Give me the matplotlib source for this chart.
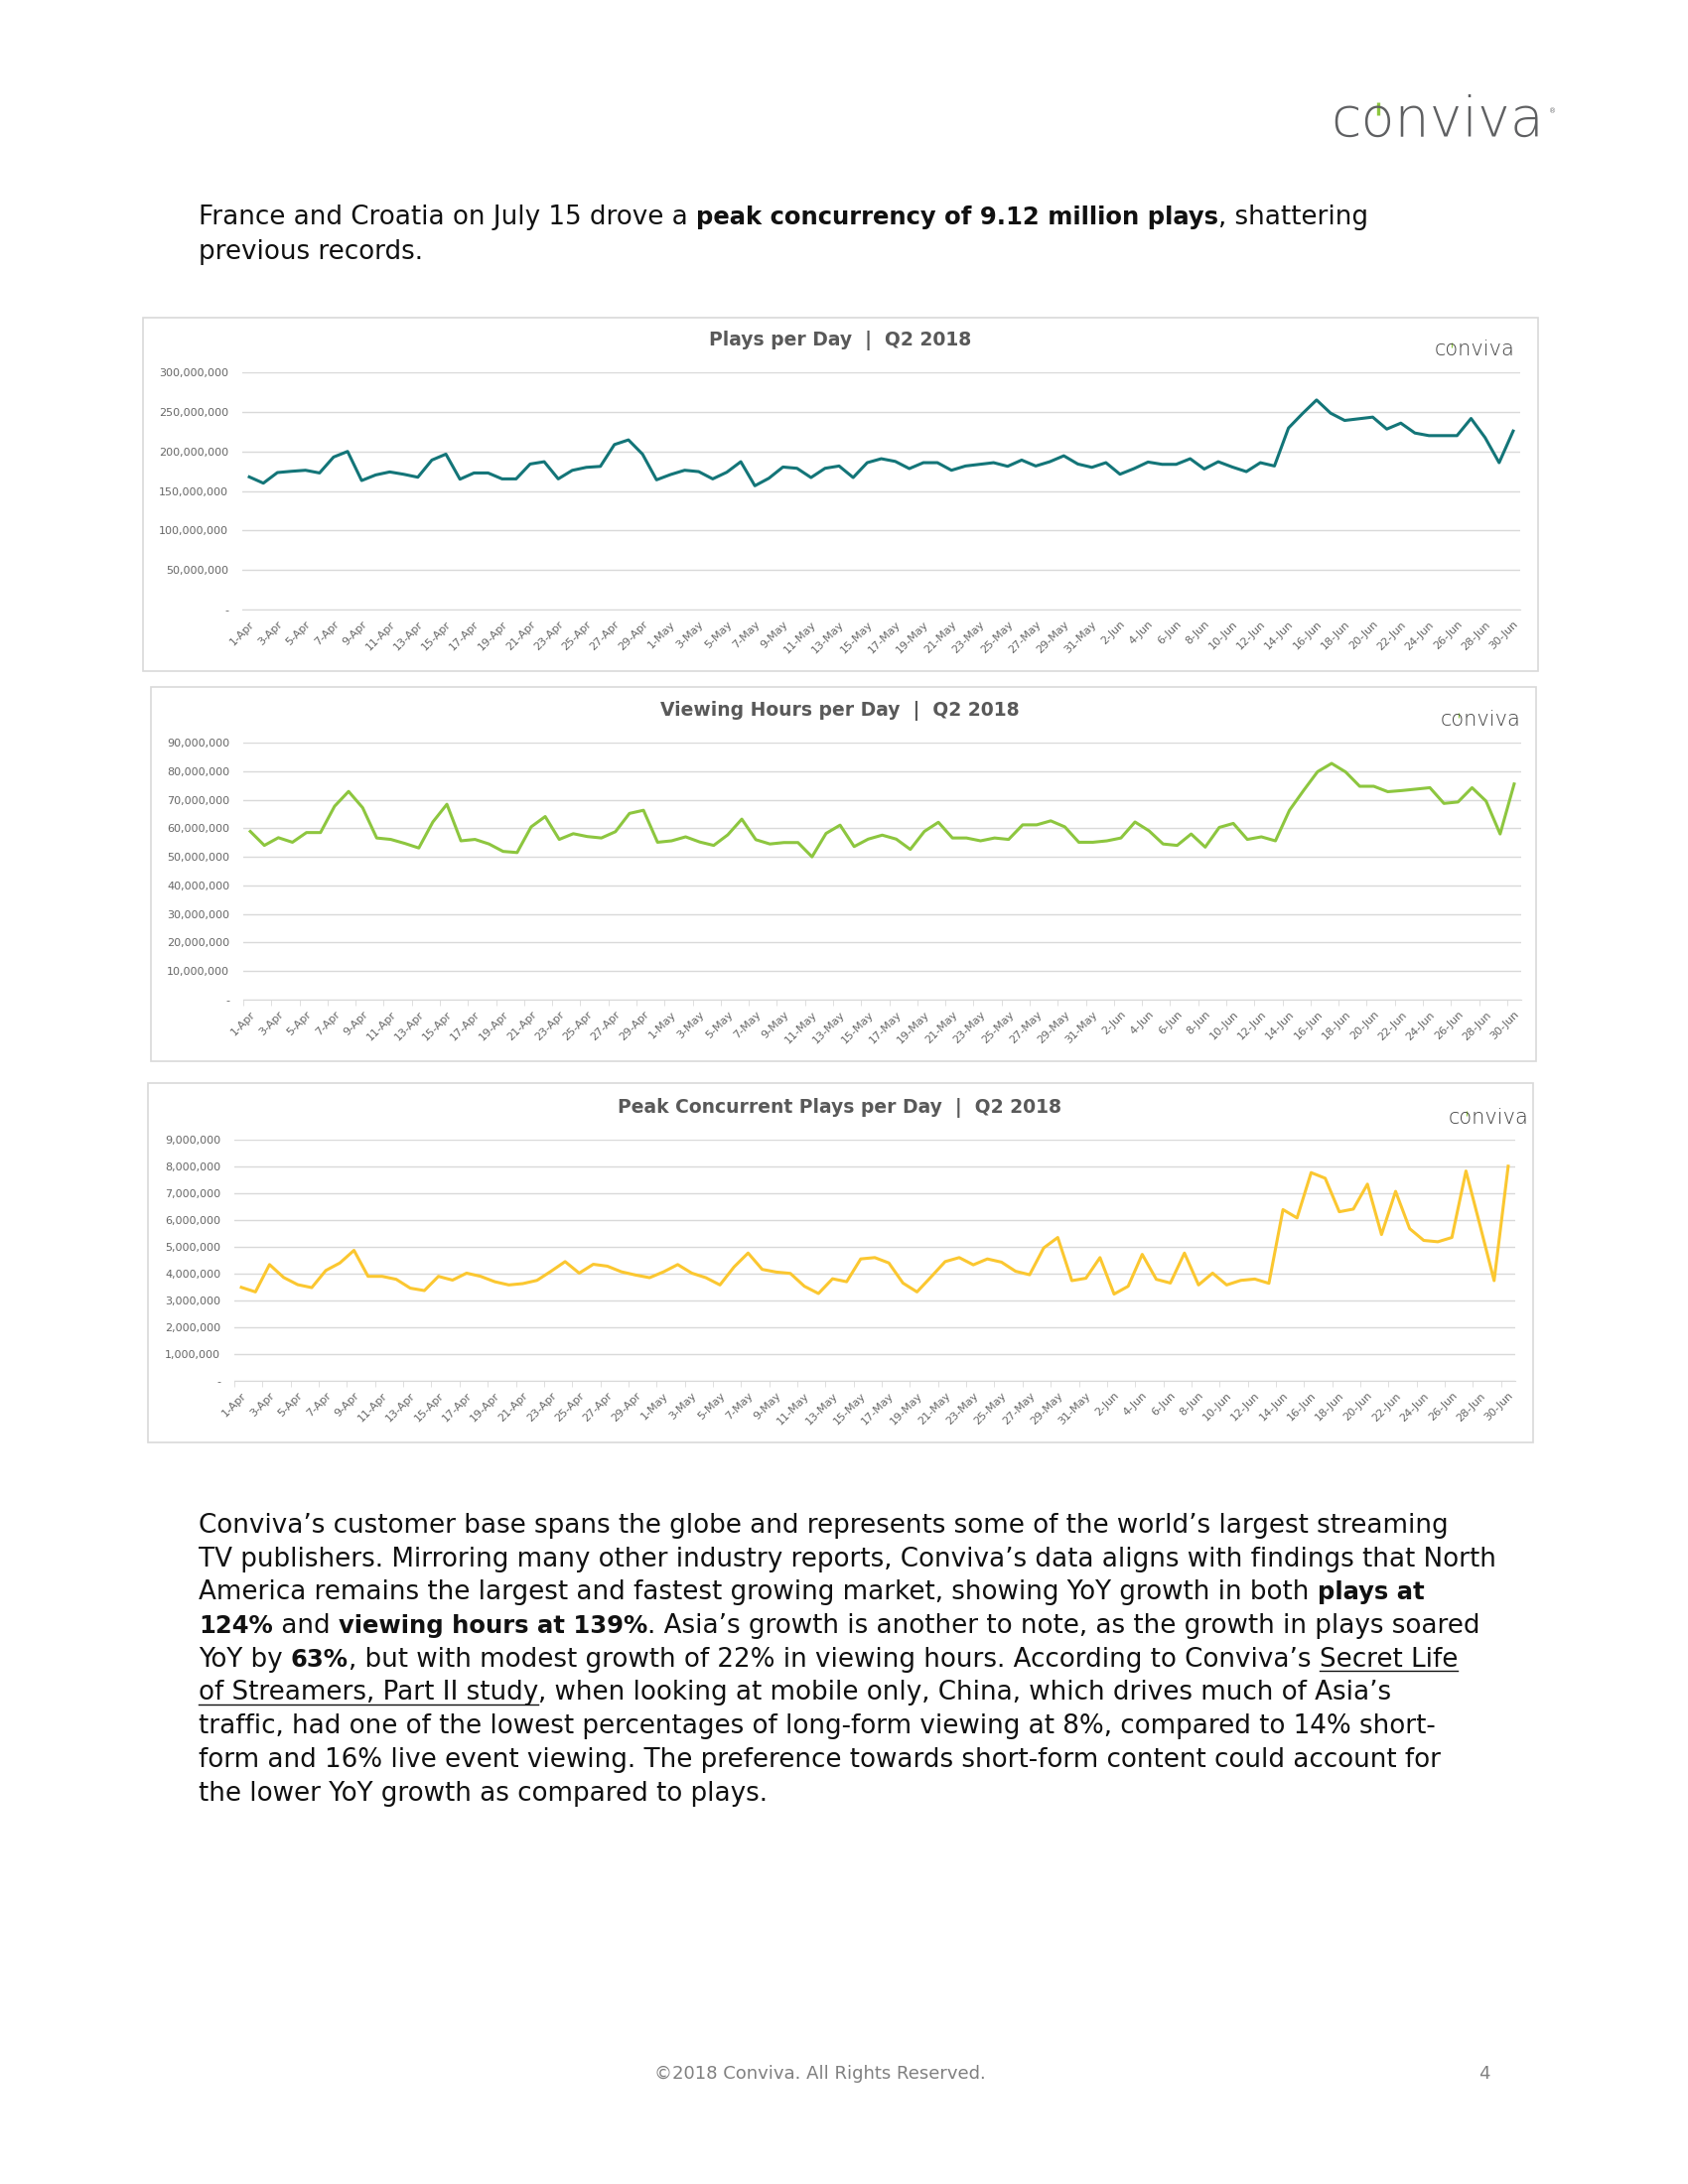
import numpy as np
import pandas as pd
import matplotlib
matplotlib.use("Agg")
import matplotlib.pyplot as plt
from matplotlib.patches import Rectangle
from matplotlib.lines import Line2D
from matplotlib.ticker import FuncFormatter

plt.rcParams["font.family"] = ["DejaVu Sans"]

W, H = 1700, 2200

# Q2 2018, one value per day (millions)
days = pd.date_range("2018-04-01", "2018-06-30", freq="D")
day_labels = [f"{d.day}-{d:%b}" for d in days]

plays_m = [
    167.7, 159.8, 173.2, 174.8, 176.1, 172.7, 192.8, 199.9, 163.1, 170.2,
    174.0, 171.0, 167.3, 189.0, 196.5, 164.8, 172.7, 172.7, 165.2, 165.2,
    184.0, 186.9, 165.2, 176.0, 179.8, 181.0, 208.6, 214.5, 196.5, 164.0,
    170.7, 176.1, 174.4, 165.2, 173.6, 186.9, 156.5, 166.0, 180.2, 178.6,
    166.9, 178.6, 181.5, 166.9, 185.7, 190.7, 187.3, 178.2, 185.7, 185.7,
    176.1, 181.5, 183.6, 185.7, 181.1, 189.0, 181.5, 186.9, 194.4, 184.0,
    179.8,
    185.7, 171.1, 178.2, 186.5, 183.6, 183.6, 190.7, 177.7, 186.9, 180.2,
    174.4, 185.7, 181.5, 229.5, 247.8, 265.0, 248.3, 239.1, 241.2, 243.3,
    228.2, 235.7, 223.2, 219.9, 219.9, 219.9, 241.6, 217.4, 185.7, 225.7,
]

hours_m = [
    58.9, 54.0, 56.7, 55.1, 58.5, 58.5, 67.7, 72.9, 67.2, 56.6,
    56.1, 54.7, 53.1, 62.2, 68.4, 55.6, 56.1, 54.5, 51.9, 51.5,
    60.5, 64.1, 56.1, 58.1, 57.1, 56.6, 58.8, 65.2, 66.3, 55.1,
    55.6, 57.0, 55.2, 54.0, 57.7, 63.2, 56.0, 54.5, 55.0, 55.0,
    50.0, 58.2, 61.1, 53.6, 56.2, 57.6, 56.2, 52.6, 58.9, 62.1,
    56.6, 56.6, 55.6, 56.6, 56.1, 61.2, 61.2, 62.6, 60.5, 55.1,
    55.1,
    55.6, 56.6, 62.2, 59.1, 54.5, 54.0, 58.0, 53.4, 60.3, 61.7,
    56.1, 57.0, 55.6, 66.3, 73.2, 79.8, 82.7, 79.7, 74.7, 74.7,
    72.8, 73.2, 73.7, 74.2, 68.7, 69.2, 74.2, 69.5, 58.0, 75.5,
]

peak_m = [
    3.49, 3.32, 4.34, 3.86, 3.59, 3.48, 4.12, 4.40, 4.87, 3.90,
    3.90, 3.79, 3.46, 3.37, 3.90, 3.76, 4.02, 3.90, 3.70, 3.58,
    3.63, 3.75, 4.09, 4.45, 4.02, 4.35, 4.28, 4.07, 3.95, 3.85,
    4.07, 4.34, 4.02, 3.85, 3.58, 4.25, 4.77, 4.16, 4.06, 4.01,
    3.53, 3.26, 3.81, 3.70, 4.55, 4.60, 4.40, 3.65, 3.32, 3.88,
    4.45, 4.60, 4.33, 4.55, 4.43, 4.09, 3.96, 4.96, 5.35, 3.74,
    3.83,
    4.60, 3.24, 3.53, 4.72, 3.79, 3.65, 4.77, 3.58, 4.02, 3.58,
    3.75, 3.80, 3.64, 6.39, 6.08, 7.77, 7.56, 6.31, 6.41, 7.34,
    5.46, 7.07, 5.68, 5.24, 5.19, 5.35, 7.83, 5.80, 3.74, 8.01,
]

fig = plt.figure(figsize=(W / 100, H / 100), dpi=100)
renderer = fig.canvas.get_renderer()


def fx(x):
    return x / W


def fy(y):
    return 1 - y / H


def rect(l, t, r, b):
    return [l / W, 1 - b / H, (r - l) / W, (b - t) / H]


def write_runs(x, y, runs, size=18.8, bold_size=17.5):
    # runs: (text, bold, underline), drawn one after another on a baseline
    for txt, bold, under in runs:
        t = fig.text(fx(x), fy(y), txt, fontsize=bold_size if bold else size,
                     va="baseline", ha="left",
                     fontweight="bold" if bold else "normal", color="#111111")
        w = t.get_window_extent(renderer).width
        if under:
            fig.add_artist(Line2D([fx(x), fx(x + w)], [fy(y + 4)] * 2, color="#111111", lw=1))
        x += w


def logo(x_right, base, size, color):
    # grey word mark with the small green "power" notch in the o
    t = fig.text(0, fy(base), "conviva", ha="left", va="baseline", fontsize=size,
                 color=color, fontweight="light")
    w = t.get_window_extent(renderer).width
    x0 = x_right - w
    t.set_x(fx(x0))
    c = fig.text(0, 0, "c", fontsize=size, fontweight="light").get_window_extent(renderer).width
    co = fig.text(0, 0, "co", fontsize=size, fontweight="light").get_window_extent(renderer).width
    fig.texts[-1].remove()
    fig.texts[-1].remove()
    xo = x0 + (c + co) / 2
    em = size * 100 / 72
    top = base - 0.547 * em
    fig.add_artist(Line2D([fx(xo)] * 2, [fy(top - 0.06 * em), fy(top + 0.14 * em)],
                          color="white", lw=size * 0.16, solid_capstyle="butt"))
    fig.add_artist(Line2D([fx(xo)] * 2, [fy(top - 0.06 * em), fy(top + 0.16 * em)],
                          color="#8DC63F", lw=size * 0.06, solid_capstyle="butt"))
    return t


def line_chart(frame, area, vals, color, title, title_y, logo_pos, ymax, ystep, tickmarks):
    l, t, r, b = frame
    fig.add_artist(Rectangle((fx(l), fy(b)), (r - l) / W, (b - t) / H,
                             transform=fig.transFigure, fill=False,
                             edgecolor="#D9D9D9", lw=1.2))
    ax = fig.add_axes(rect(*area))
    x = np.arange(len(vals))
    ax.plot(x, np.array(vals) * 1e6, color=color, lw=2.2)
    ax.set_xlim(-0.5, len(vals) - 0.5)
    ax.set_ylim(0, ymax)
    ax.set_yticks(np.arange(0, ymax + 1, ystep))
    ax.yaxis.set_major_formatter(FuncFormatter(lambda v, p: "-" if v == 0 else f"{v:,.0f}"))
    ax.grid(axis="y", color="#D9D9D9", lw=1)
    ax.set_axisbelow(True)
    for s in ax.spines.values():
        s.set_visible(False)
    ax.spines["bottom"].set_visible(True)
    ax.spines["bottom"].set_color("#D9D9D9")
    ax.tick_params(axis="y", length=0, pad=10, labelsize=8, labelcolor="#666666")
    ax.set_xticks(x[::2])
    ax.set_xticklabels(day_labels[::2], rotation=45, ha="right", va="top",
                       rotation_mode="anchor")
    ax.tick_params(axis="x", which="major", length=0, pad=7, labelsize=8,
                   labelcolor="#666666")
    if tickmarks:
        ax.set_xticks(np.arange(-0.5, len(vals), 2), minor=True)
        ax.tick_params(axis="x", which="minor", length=4, color="#D9D9D9")
    fig.text(fx(846), fy(title_y), title, ha="center", va="center", fontsize=13.5,
             fontweight="bold", color="#595959")
    logo(logo_pos[0], logo_pos[1], 15, "#3F3F3F")
    return ax


# page logo
logo(1555, 137, 40, "#5F6062")
fig.text(fx(1560), fy(112), "®", ha="left", va="center", fontsize=5, color="#6D6E71")

# intro
write_runs(200, 226, [("France and Croatia on July 15 drove a ", False, False),
                      ("peak concurrency of 9.12 million plays", True, False),
                      (", shattering", False, False)])
write_runs(200, 261, [("previous records.", False, False)])

line_chart((144, 320, 1549, 676), (244, 375, 1531, 614), plays_m, "#137578",
           "Plays per Day  |  Q2 2018", 343, (1525, 358), 300e6, 50e6, False)
line_chart((152, 692, 1547, 1069), (245, 748, 1532, 1007), hours_m, "#8DC63F",
           "Viewing Hours per Day  |  Q2 2018", 716, (1532, 731), 90e6, 10e6, True)
line_chart((149, 1091, 1544, 1453), (236, 1148, 1526, 1391), peak_m, "#FBC730",
           "Peak Concurrent Plays per Day  |  Q2 2018", 1116, (1540, 1132), 9e6, 1e6, True)

# body paragraph
para = [
    [("Conviva’s customer base spans the globe and represents some of the world’s largest streaming", False, False)],
    [("TV publishers. Mirroring many other industry reports, Conviva’s data aligns with findings that North", False, False)],
    [("America remains the largest and fastest growing market, showing YoY growth in both ", False, False),
     ("plays at", True, False)],
    [("124%", True, False), (" and ", False, False), ("viewing hours at 139%", True, False),
     (". Asia’s growth is another to note, as the growth in plays soared", False, False)],
    [("YoY by ", False, False), ("63%", True, False),
     (", but with modest growth of 22% in viewing hours. According to Conviva’s ", False, False),
     ("Secret Life", False, True)],
    [("of Streamers, Part II study", False, True),
     (", when looking at mobile only, China, which drives much of Asia’s", False, False)],
    [("traffic, had one of the lowest percentages of long-form viewing at 8%, compared to 14% short-", False, False)],
    [("form and 16% live event viewing. The preference towards short-form content could account for", False, False)],
    [("the lower YoY growth as compared to plays.", False, False)],
]
for i, runs in enumerate(para):
    write_runs(200, 1544 + i * 33.7, runs)

# footer
fig.text(fx(826), fy(2094), "©2018 Conviva. All Rights Reserved.", ha="center",
         va="baseline", fontsize=13, color="#808080")
fig.text(fx(1495), fy(2094), "4", ha="center", va="baseline", fontsize=13, color="#808080")

fig.savefig("out.png", dpi=100, facecolor="white")
